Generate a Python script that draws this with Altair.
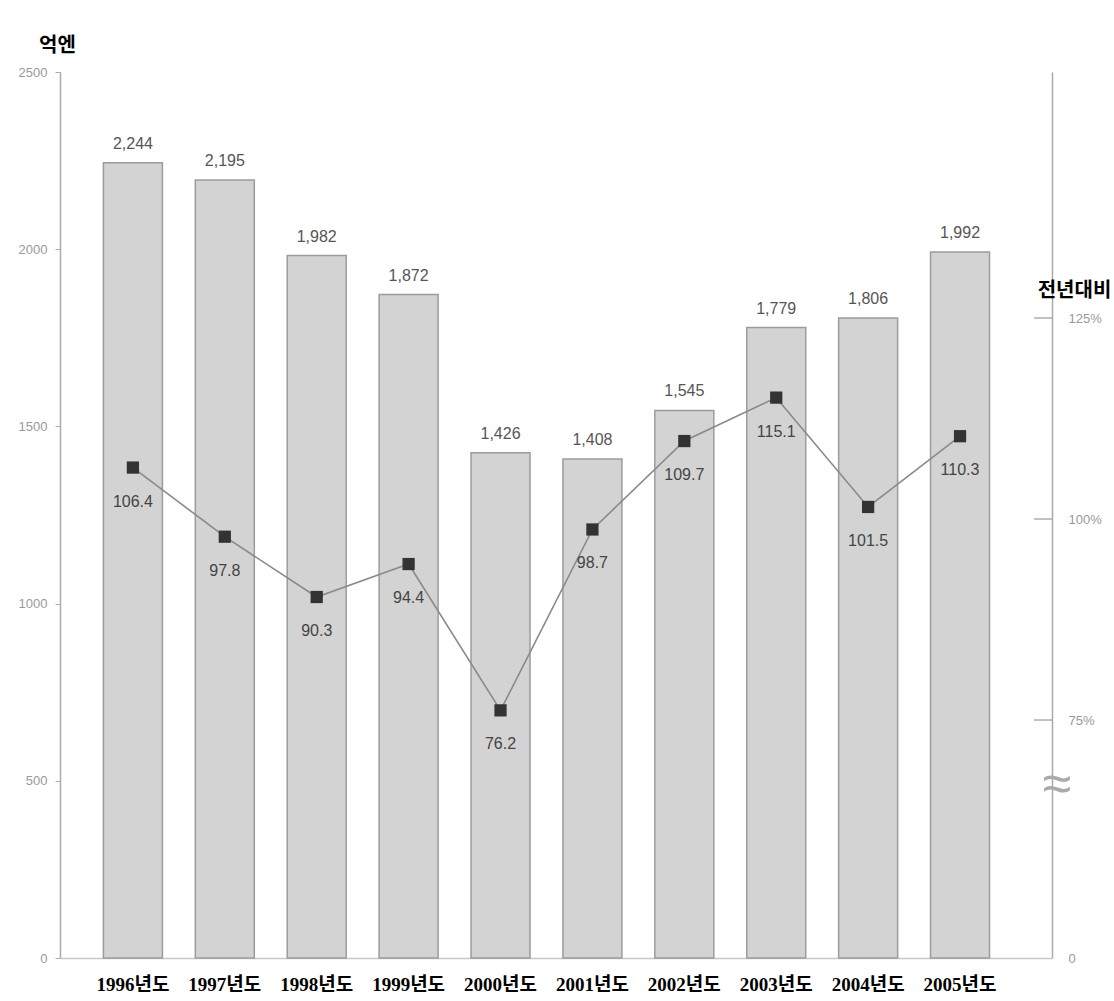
import altair as alt
import pandas as pd

years = ["1996년도", "1997년도", "1998년도", "1999년도", "2000년도",
         "2001년도", "2002년도", "2003년도", "2004년도", "2005년도"]
sales = [2244, 2195, 1982, 1872, 1426, 1408, 1545, 1779, 1806, 1992]
ratio = [106.4, 97.8, 90.3, 94.4, 76.2, 98.7, 109.7, 115.1, 101.5, 110.3]
left_ticks = [0, 500, 1000, 1500, 2000, 2500]
right_ticks = [75, 100, 125]
right_bottom = 45.4   # value drawn at the axis' "0" (broken axis)
right_top = 155.6

df = pd.DataFrame({"year": years, "sales": sales, "ratio": ratio})
tick_df = pd.DataFrame({"ratio": right_ticks})
brk_df = pd.DataFrame({"s": ["≈"]})

W, H = 992, 886
HANGUL = "Noto Sans CJK KR"
XFONT = "Liberation Serif, Noto Sans CJK KR"
NUMFONT = "Liberation Sans"

x_main = alt.X(
    "year:N", sort=years,
    scale=alt.Scale(paddingInner=0.358, paddingOuter=0.576, align=0.41),
    axis=alt.Axis(title=None, labelAngle=0, ticks=False, labelFont=XFONT,
                  labelFontSize=19, labelFontWeight="bold", labelColor="black",
                  labelPadding=17, domainColor="#c8c8c8", domainWidth=1.5),
)
x_plain = alt.X("year:N", sort=years)

base = alt.Chart(df)

y_left = alt.Y(
    "sales:Q",
    scale=alt.Scale(domain=[0, 2500], nice=False),
    axis=alt.Axis(values=left_ticks, format="d", grid=False, labelColor="#999",
                  labelFont=NUMFONT, labelFontSize=13, tickSize=5,
                  tickColor="#aaa", domainColor="#aaa", domainWidth=1.5,
                  labelPadding=8,
                  title="억엔", titleAngle=0, titleX=-3, titleY=-27,
                  titleAlign="center", titleBaseline="middle",
                  titleFont=HANGUL, titleFontSize=20, titleFontWeight="bold",
                  titleColor="black"),
)

bars = base.mark_bar(color="#d3d3d3", stroke="#9c9c9c", strokeWidth=1.5).encode(
    x=x_main, y=y_left)
bar_text = base.mark_text(dy=-19, fontSize=16, color="#555", font=NUMFONT).encode(
    x=x_plain, y=alt.Y("sales:Q"), text=alt.Text("sales:Q", format=","))

left_layer = alt.layer(bars, bar_text)

y_right = alt.Y(
    "ratio:Q",
    scale=alt.Scale(domain=[right_bottom, right_top], nice=False, zero=False),
    axis=alt.Axis(orient="right", values=[right_bottom] + right_ticks,
                  labelExpr="datum.value < 50 ? '0' : format(datum.value, 'd') + '%'",
                  grid=False, ticks=False, labelColor="#999", labelFont=NUMFONT,
                  labelFontSize=13, labelPadding=16, domainColor="#aaa",
                  domainWidth=1.5,
                  title="전년대비", titleAngle=0, titleX=22, titleY=218,
                  titleAlign="center", titleBaseline="middle",
                  titleFont=HANGUL, titleFontSize=20, titleFontWeight="bold",
                  titleColor="black"),
)

line = base.mark_line(color="#8a8a8a", strokeWidth=1.6).encode(x=x_plain, y=y_right)
pts = base.mark_square(size=150, color="#333", opacity=1).encode(
    x=x_plain, y=alt.Y("ratio:Q"))
pt_text = base.mark_text(dy=34, fontSize=16, color="#444", font=NUMFONT).encode(
    x=x_plain, y=alt.Y("ratio:Q"), text=alt.Text("ratio:Q", format=".1f"))
rticks = alt.Chart(tick_df).mark_rule(color="#999", strokeWidth=1.2).encode(
    y=alt.Y("ratio:Q"), x=alt.value(W - 18), x2=alt.value(W))
brk = alt.Chart(brk_df).mark_text(fontSize=52, color="#aaa", baseline="middle").encode(
    text="s:N", x=alt.value(W + 5), y=alt.value(713))

right_layer = alt.layer(line, pts, pt_text, rticks, brk)

chart = alt.layer(left_layer, right_layer).resolve_scale(y="independent").properties(
    width=W, height=H,
    autosize=alt.AutoSizeParams(type="none"),
    padding={"left": 60, "top": 72, "right": 62, "bottom": 43},
    background="white",
).configure_view(stroke=None)

chart.save("out.html", embed_options={"renderer": "svg", "actions": False})
